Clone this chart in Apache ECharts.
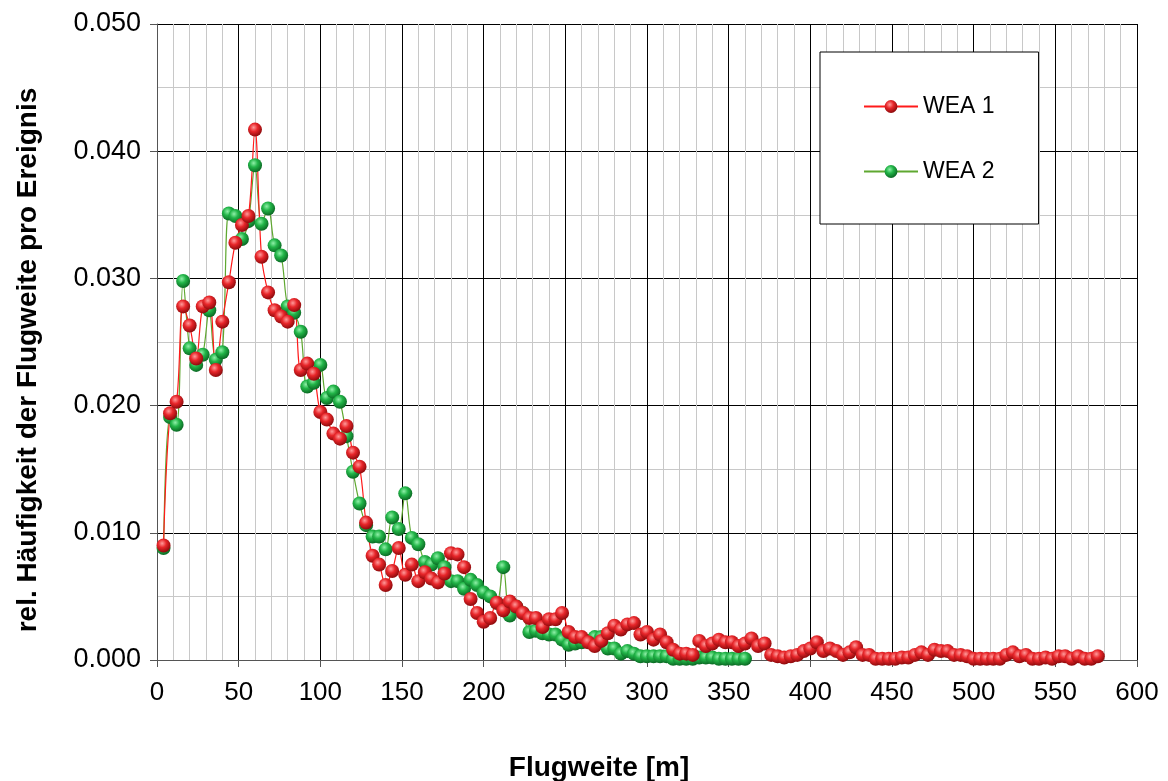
<!DOCTYPE html>
<html><head><meta charset="utf-8">
<script src="https://cdn.jsdelivr.net/npm/echarts@6/dist/echarts.min.js"></script>
<style>html,body{margin:0;padding:0;background:#fff}#c{width:1168px;height:781px}</style>
</head><body><div id="c"></div>
<script>
// Flugweite [m] positions of the WEA 1 samples
const dist1 = [4,8,12,16,20,24,28,32,36,40,44,48,52,56,60,64,68,72,76,80,84,88,92,96,100,
104,108,112,116,120,124,128,132,136,140,144,148,152,156,160,164,168,172,176,180,184,188,192,196,200,
204,208,212,216,220,224,228,232,236,240,244,248,252,256,260,264,268,272,276,280,284,288,292,296,300,
304,308,312,316,320,324,328,332,336,340,344,348,352,356,360,364,368,372,376,380,384,388,392,396,400,
404,408,412,416,420,424,428,432,436,440,444,448,452,456,460,464,468,472,476,480,484,488,492,496,500,
504,508,512,516,520,524,528,532,536,540,544,548,552,556,560,564,568,572,576];
const wea1 = [0.0090,0.0194,0.0203,0.0278,0.0263,0.0237,0.0278,0.0281,0.0228,0.0266,0.0297,0.0328,0.0342,0.0349,0.0417,0.0317,0.0289,0.0275,0.0270,0.0266,0.0279,0.0228,0.0233,0.0225,0.0195,
0.0189,0.0178,0.0174,0.0184,0.0163,0.0152,0.0108,0.0082,0.0075,0.0059,0.0070,0.0088,0.0067,0.0075,0.0062,0.0069,0.0064,0.0061,0.0068,0.0084,0.0083,0.0073,0.0048,0.0037,0.0030,
0.0033,0.0045,0.0039,0.0046,0.0042,0.0037,0.0033,0.0033,0.0026,0.0032,0.0032,0.0037,0.0022,0.0018,0.0018,0.0014,0.0011,0.0015,0.0021,0.0027,0.0024,0.0028,0.0029,0.0020,0.0022,
0.0016,0.0020,0.0014,0.0008,0.0005,0.0005,0.0004,0.0015,0.0011,0.0013,0.0016,0.0014,0.0014,0.0011,0.0013,0.0017,0.0011,0.0013,0.0004,0.0003,0.0002,0.0003,0.0004,0.0007,0.0009,
0.0014,0.0007,0.0009,0.0007,0.0004,0.0006,0.0010,0.0004,0.0004,0.0001,0.0001,0.0001,0.0001,0.0002,0.0002,0.0004,0.0006,0.0004,0.0008,0.0007,0.0007,0.0004,0.0004,0.0003,0.0001,
0.0001,0.0001,0.0001,0.0001,0.0004,0.0006,0.0003,0.0004,0.0001,0.0001,0.0002,0.0001,0.0003,0.0003,0.0001,0.0003,0.0001,0.0001,0.0003];
// Flugweite [m] positions of the WEA 2 samples
const dist2 = [4,8,12,16,20,24,28,32,36,40,44,48,52,56,60,64,68,72,76,80,84,88,92,96,100,
104,108,112,116,120,124,128,132,136,140,144,148,152,156,160,164,168,172,176,180,184,188,192,196,200,
204,208,212,216,220,224,228,232,236,240,244,248,252,256,260,264,268,272,276,280,284,288,292,296,300,
304,308,312,316,320,324,328,332,336,340,344,348,352,356,360];
const wea2 = [0.0088,0.0191,0.0185,0.0298,0.0245,0.0232,0.0240,0.0275,0.0236,0.0242,0.0351,0.0349,0.0331,0.0345,0.0389,0.0343,0.0355,0.0326,0.0318,0.0278,0.0273,0.0258,0.0215,0.0218,0.0232,
0.0206,0.0211,0.0203,0.0176,0.0148,0.0123,0.0106,0.0097,0.0097,0.0087,0.0112,0.0103,0.0131,0.0096,0.0091,0.0077,0.0075,0.0080,0.0073,0.0062,0.0062,0.0056,0.0063,0.0059,0.0053,
0.0050,0.0045,0.0073,0.0035,0.0042,0.0037,0.0022,0.0023,0.0021,0.0020,0.0020,0.0016,0.0012,0.0013,0.0014,0.0015,0.0018,0.0018,0.0009,0.0009,0.0005,0.0007,0.0005,0.0003,0.0003,
0.0003,0.0003,0.0003,0.0001,0.0001,0.0001,0.0001,0.0002,0.0002,0.0002,0.0001,0.0001,0.0001,0.0001,0.0001];
const seriesNames = ['WEA 1', 'WEA 2'];
const xTitle = 'Flugweite [m]';
const yTitle = 'rel. Häufigkeit der Flugweite pro Ereignis';

const FONT = '"Liberation Sans", Arial, sans-serif';
const pairs = (xs, ys) => xs.map((x, i) => [x, ys[i]]);
const ball = (hi, mid, lo) => ({
  type: 'radial', x: 0.4, y: 0.35, r: 0.65,
  colorStops: [{offset: 0, color: hi}, {offset: 0.45, color: mid}, {offset: 1, color: lo}]
});
const redBall = ball('#ff9a9a', '#e8262a', '#8e0a0c');
const greenBall = ball('#8ff0a8', '#22b548', '#0b6a24');

const chart = echarts.init(document.getElementById('c'), null, {renderer: 'canvas'});
chart.setOption({
  backgroundColor: '#fff',
  animation: false,
  grid: {left: 157, top: 24, width: 980, height: 636, containLabel: false},
  xAxis: {
    type: 'value', min: 0, max: 600, interval: 50,
    axisLine: {show: true, onZero: false, lineStyle: {color: '#555', width: 1}},
    axisTick: {show: true, length: 7, lineStyle: {color: '#555'}},
    axisLabel: {fontSize: 26, color: '#000', margin: 20, fontFamily: FONT},
    splitLine: {show: true, lineStyle: {color: '#000', width: 1}},
    minorTick: {show: false, splitNumber: 5},
    minorSplitLine: {show: true, lineStyle: {color: '#c8c8c8', width: 1}}
  },
  yAxis: {
    type: 'value', min: 0, max: 0.05, interval: 0.01,
    axisLine: {show: true, onZero: false, lineStyle: {color: '#555', width: 1}},
    axisTick: {show: true, length: 7, lineStyle: {color: '#555'}},
    axisLabel: {fontSize: 27, color: '#000', margin: 16, fontFamily: FONT,
      formatter: v => v.toFixed(3)},
    splitLine: {show: true, lineStyle: {color: '#000', width: 1}},
    minorTick: {show: false, splitNumber: 2},
    minorSplitLine: {show: true, lineStyle: {color: '#c8c8c8', width: 1}}
  },
  legend: {
    orient: 'vertical', left: 820, top: 52,
    data: seriesNames,
    backgroundColor: '#fff', borderColor: '#000', borderWidth: 1,
    padding: [43, 44, 41, 43], itemGap: 42,
    itemWidth: 54, itemHeight: 16,
    textStyle: {fontSize: 23, color: '#000', fontFamily: FONT}
  },
  graphic: [
    {type: 'text', x: 599, y: 768, style: {text: xTitle, fontSize: 28, fontWeight: 'bold',
      fontFamily: FONT, fill: '#000', align: 'center', verticalAlign: 'middle'}},
    {type: 'text', x: 28, y: 360, rotation: Math.PI / 2, style: {text: yTitle, fontSize: 28,
      fontWeight: 'bold', fontFamily: FONT, fill: '#000', align: 'center', verticalAlign: 'middle'}}
  ],
  series: [
    {name: seriesNames[1], type: 'line', data: pairs(dist2, wea2), smooth: 0.35,
      symbol: 'circle', symbolSize: 14, showAllSymbol: true,
      lineStyle: {color: '#5fa830', width: 1.2}, itemStyle: {color: greenBall}},
    {name: seriesNames[0], type: 'line', data: pairs(dist1, wea1), smooth: 0.35,
      symbol: 'circle', symbolSize: 14, showAllSymbol: true,
      lineStyle: {color: '#ff1a1a', width: 1.2}, itemStyle: {color: redBall}}
  ]
});
</script></body></html>
